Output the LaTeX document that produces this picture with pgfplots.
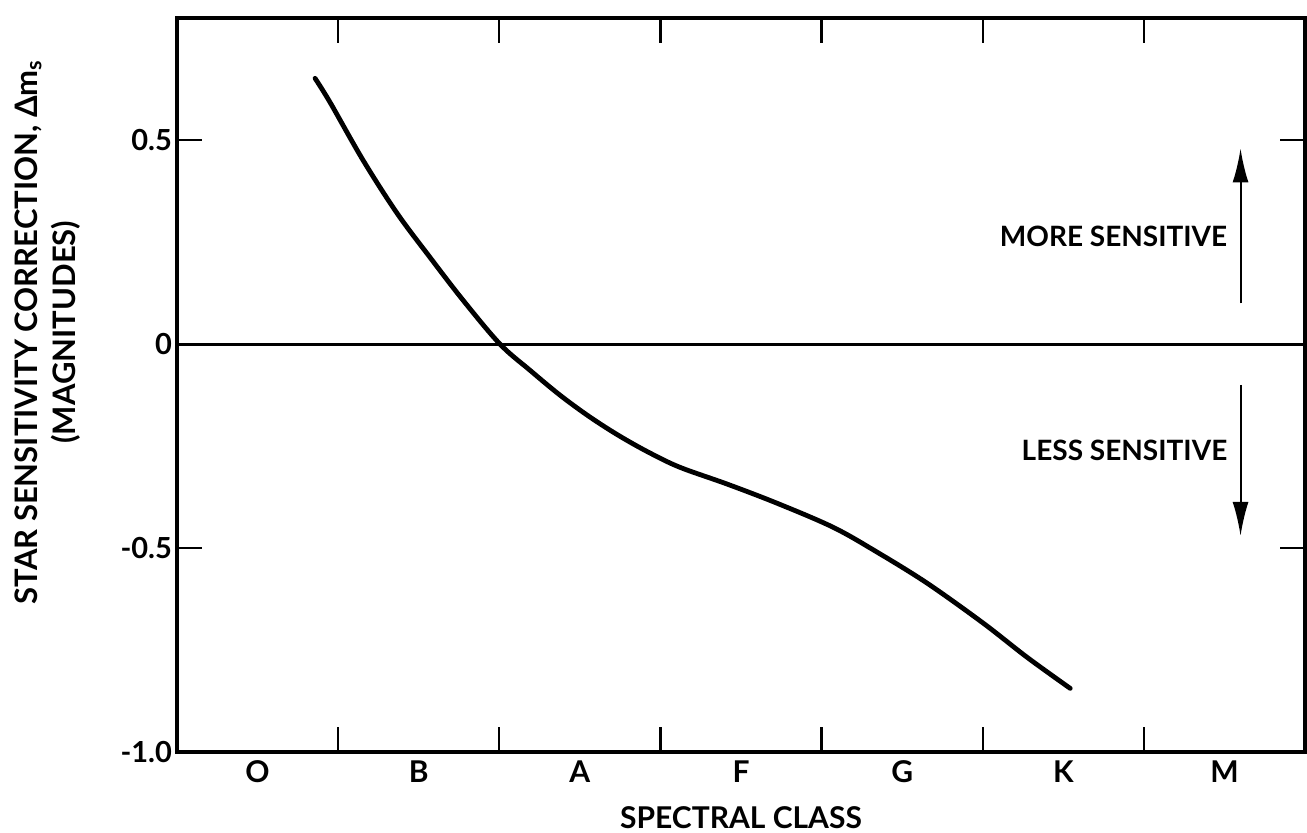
\documentclass[border=0pt]{standalone}
\usepackage{fontspec}
\setmainfont{Lato Bold}
\usepackage{pgfplots}
\pgfplotsset{compat=1.18}
\usetikzlibrary{arrows.meta,calc}

\begin{document}
\begin{tikzpicture}
\begin{axis}[
  name=ax,
  scale only axis,
  width=564pt, height=367pt,
  xmin=0, xmax=7, ymin=-1.0, ymax=0.8,
  axis line style={line width=1.6pt},
  tick align=inside,
  major tick length=12.5pt,
  minor tick length=12.5pt,
  % class names sit between the boundary ticks
  xtick={0.5,1.5,...,6.5},
  xticklabels={O,B,A,F,G,K,M},
  minor xtick={1,2,...,6},
  major x tick style={draw=none},
  minor x tick style={line width=1.1pt, black},
  xtick pos=both,
  xticklabel pos=lower,
  ytick={-1,-0.5,0,0.5},
  yticklabels={-1.0,-0.5,0,0.5},
  ytick pos=both,
  yticklabel pos=left,
  y tick style={line width=1.1pt, black},
  x tick label style={font=\fontsize{15}{18}\selectfont, yshift=-1pt},
  y tick label style={font=\fontsize{14.5}{17}\selectfont, xshift=1pt},
  xlabel={SPECTRAL CLASS},
  xlabel style={font=\fontsize{15}{18}\selectfont, yshift=-5pt},
  ylabel={STAR SENSITIVITY CORRECTION, Δm\textsubscript{s}\\(MAGNITUDES)},
  ylabel style={align=center, font=\fontsize{15.5}{19}\selectfont,
                at={($(rel axis cs:0,0.572)+(-81.5pt,0)$)},
                anchor=north, inner sep=0pt},
  clip=false,
]
  % reference line at zero correction
  \addplot[line width=1.4pt] coordinates {(0,0) (7,0)};

  % sensitivity correction versus spectral class
  \addplot[line width=2.4pt, line cap=round, smooth, tension=0.55] coordinates {
    (0.857, 0.652) (0.950, 0.593) (1.155, 0.451) (1.366, 0.321)
    (1.570, 0.213) (1.775, 0.108) (2.005, 0.000) (2.191,-0.064)
    (2.377,-0.125) (2.564,-0.179) (2.750,-0.226) (2.936,-0.267)
    (3.122,-0.302) (3.414,-0.343) (3.724,-0.390) (4.072,-0.449)
    (4.345,-0.510) (4.655,-0.586) (5.003,-0.684) (5.276,-0.768)
    (5.543,-0.844)
  };

  % direction arrows
  \addplot[line width=1pt, -{Latex[length=17pt, width=8pt]}]
    coordinates {(6.60,0.10) (6.60,0.48)};
  \addplot[line width=1pt, -{Latex[length=17pt, width=8pt]}]
    coordinates {(6.60,-0.10) (6.60,-0.47)};

  \node[anchor=east, font=\fontsize{14}{16}\selectfont, inner sep=0pt]
    at (axis cs:6.52,0.265) {MORE SENSITIVE};
  \node[anchor=east, font=\fontsize{14}{16}\selectfont, inner sep=0pt]
    at (axis cs:6.52,-0.26) {LESS SENSITIVE};
\end{axis}
\pgfresetboundingbox
\path ([xshift=-88.5pt, yshift=-40.5pt]ax.south west)
  rectangle ([xshift=1pt, yshift=9pt]ax.north east);
\end{tikzpicture}
\end{document}
